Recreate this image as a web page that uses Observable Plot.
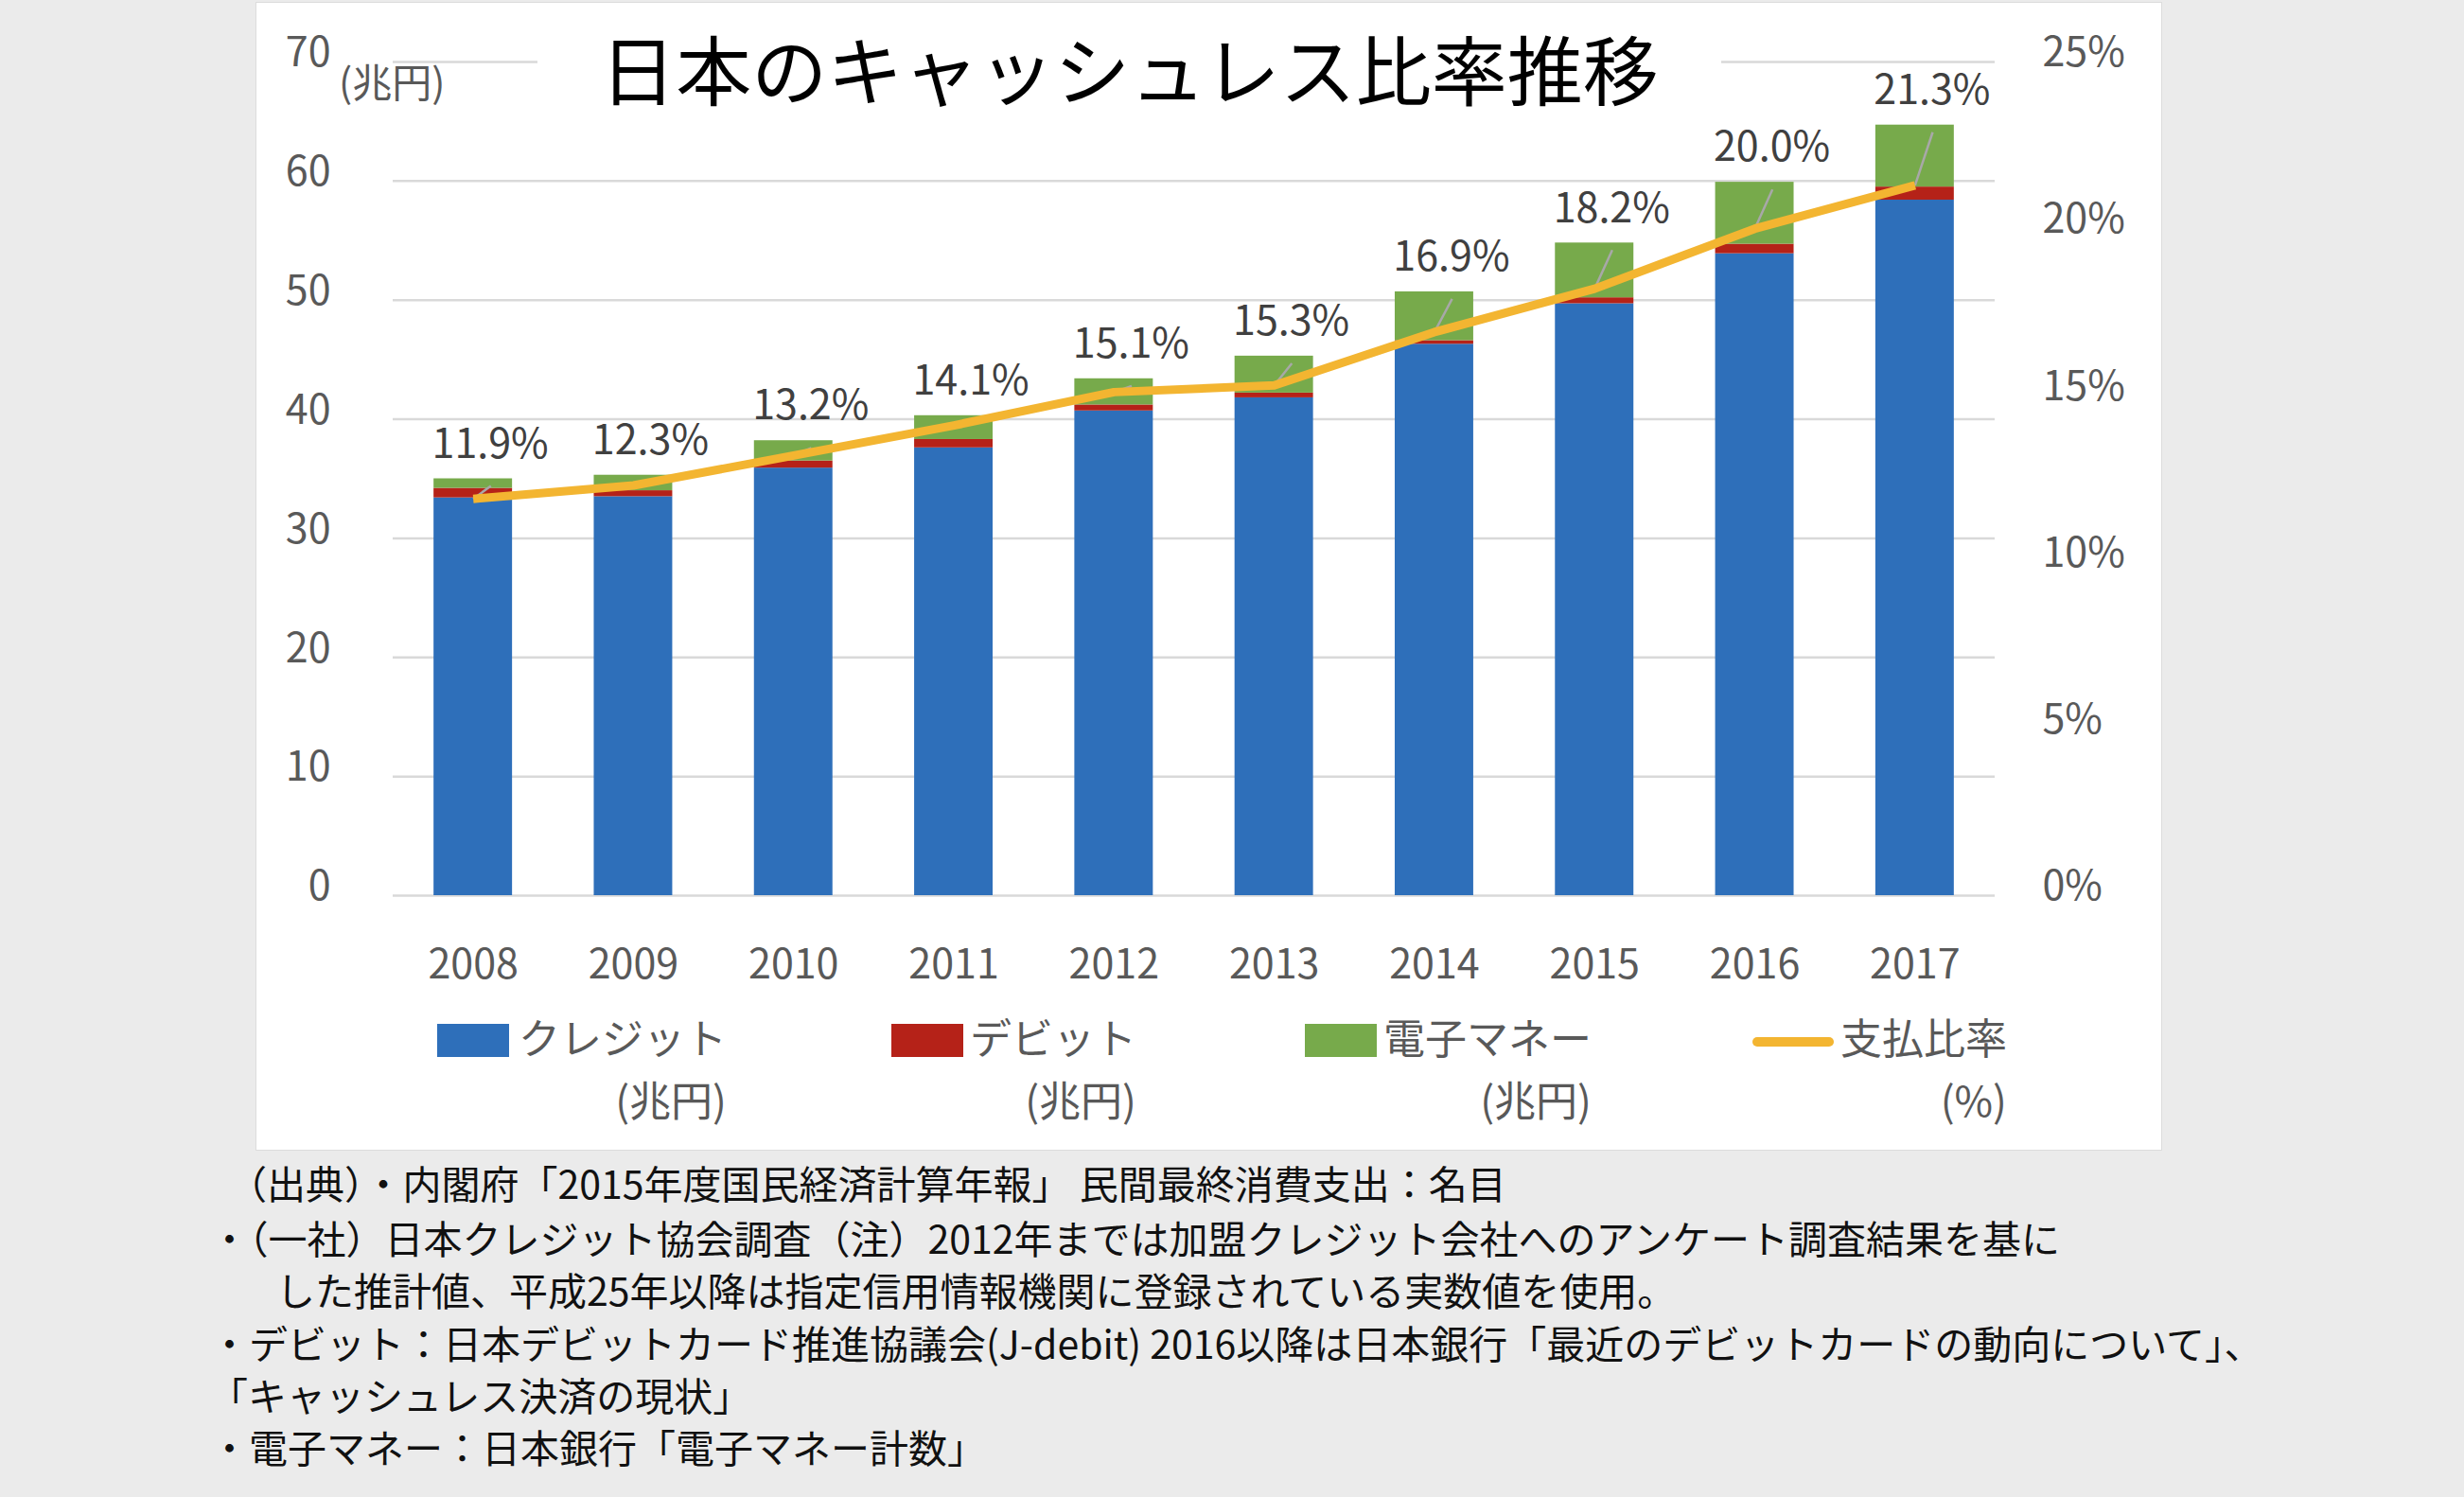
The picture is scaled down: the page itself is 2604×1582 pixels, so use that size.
<!DOCTYPE html>
<html lang="ja">
<head>
<meta charset="utf-8">
<script src="https://cdn.jsdelivr.net/npm/d3@7"></script>
<script src="https://cdn.jsdelivr.net/npm/@observablehq/plot@0.6"></script>
<style>
  html, body { margin: 0; padding: 0; }
  body {
    width: 2604px; height: 1582px; background: #ebebeb; position: relative; overflow: hidden;
    font-family: "Noto Sans CJK JP", "Noto Sans", sans-serif;
  }
  #panel {
    position: absolute; left: 271px; top: 3px; width: 2013px; height: 1212px;
    background: #ffffff; box-shadow: 0 0 0 1px #dcdcdc;
  }
  #chart { position: absolute; left: 0; top: 0; }
  #title {
    position: absolute; left: 297px; top: 22px; width: 1251px; height: 90px;
    line-height: 90px; text-align: center; font-size: 80px; color: #000; background: #fff;
    white-space: nowrap;
  }
  #unit {
    position: absolute; left: 87px; top: 57px; font-size: 42px; line-height: 50px; color: #595959;
    white-space: nowrap;
  }
  .sw { position: absolute; }
  .lg {
    position: absolute; font-size: 44px; line-height: 66px; color: #595959;
    text-align: right; white-space: nowrap;
  }
  .cap {
    position: absolute; font-size: 41px; line-height: 54px; color: #111; white-space: nowrap;
  }
</style>
</head>
<body>
<div id="panel">
  <div id="chart"></div>
  <div id="title"></div>
  <div id="unit"></div>
  <div id="legend"></div>
</div>
<div id="caption"></div>
<script>
// ---- data ----
const years   = [2008, 2009, 2010, 2011, 2012, 2013, 2014, 2015, 2016, 2017];
const credit  = [33.4, 33.5, 35.9, 37.6, 40.7, 41.8, 46.3, 49.7, 53.9, 58.4]; // 兆円
const debit   = [0.8, 0.5, 0.6, 0.7, 0.5, 0.4, 0.3, 0.5, 0.8, 1.1];          // 兆円
const emoney  = [0.8, 1.3, 1.7, 2.0, 2.2, 3.1, 4.1, 4.6, 5.2, 5.2];          // 兆円
const rate    = [11.9, 12.3, 13.2, 14.1, 15.1, 15.3, 16.9, 18.2, 20.0, 21.3]; // %
const yTicks   = [0, 10, 20, 30, 40, 50, 60, 70];
const pctTicks = [0, 5, 10, 15, 20, 25];
const seriesNames = ["クレジット", "デビット", "電子マネー"];
const lineName = "支払比率";
const unitLabels = ["(兆円)", "(兆円)", "(兆円)", "(%)"];
const titleText = "日本のキャッシュレス比率推移";
const yUnitText = "(兆円)";
const captionLines = [
  "（出典）・内閣府「2015年度国民経済計算年報」 民間最終消費支出：名目",
  "・（一社）日本クレジット協会調査（注）2012年までは加盟クレジット会社へのアンケート調査結果を基に",
  "した推計値、平成25年以降は指定信用情報機関に登録されている実数値を使用。",
  "・デビット：日本デビットカード推進協議会(J-debit) 2016以降は日本銀行「最近のデビットカードの動向について」、",
  "「キャッシュレス決済の現状」",
  "・電子マネー：日本銀行「電子マネー計数」"
];

// ---- styling ----
const colors = ["#2e6fba", "#b52218", "#77aa4b"];
const lineColor = "#f3b531";
const yMax = 70, pctMax = 25, k = yMax / pctMax;
const font = '"Noto Sans CJK JP", "Noto Sans", sans-serif';

// ---- derived tables ----
const seriesVals = [credit, debit, emoney];
const stackRows = [];
years.forEach((yr, i) => {
  let base = 0;
  seriesVals.forEach((vals, s) => {
    stackRows.push({year: yr, series: seriesNames[s], y1: base, y2: base + vals[i]});
    base += vals[i];
  });
});
const rows = years.map((yr, i) => ({
  year: yr, rate: rate[i], total: credit[i] + debit[i] + emoney[i]
}));

const chart = Plot.plot({
  width: 2013, height: 1050,
  marginLeft: 144, marginRight: 176, marginTop: 62, marginBottom: 107,
  x: {type: "linear", domain: [years[0] - 0.5, years[years.length - 1] + 0.5], axis: null, label: null},
  y: {domain: [0, yMax], axis: null, label: null},
  color: {domain: seriesNames, range: colors},
  style: {fontFamily: font, background: "transparent", overflow: "visible"},
  marks: [
    Plot.ruleY(yTicks, {stroke: "#d9d9d9", strokeWidth: 2.5}),
    Plot.axisY(yTicks, {anchor: "left", tickSize: 0, tickPadding: 66, dy: -9, label: null,
      fontSize: 43, fill: "#595959", tickFormat: d => String(d)}),
    Plot.axisY(pctTicks.map(p => p * k), {anchor: "right", tickSize: 0, tickPadding: 50, dy: -9, label: null,
      fontSize: 43, fill: "#595959", tickFormat: d => Math.round(d / k) + "%"}),
    Plot.axisX(years, {anchor: "bottom", tickSize: 0, tickPadding: 57, label: null,
      fontSize: 43, fill: "#595959", tickFormat: d => String(d)}),
    Plot.rect(stackRows, {
      x1: d => d.year - 0.245, x2: d => d.year + 0.245,
      y1: "y1", y2: "y2", fill: "series"
    }),
    Plot.link(rows, {
      x1: "year", y1: d => d.rate * k,
      x2: d => d.year + 0.11, y2: d => d.total - 0.6,
      stroke: "#a8a8a8", strokeWidth: 2.5
    }),
    Plot.line(rows, {x: "year", y: d => d.rate * k, stroke: lineColor, strokeWidth: 9,
      strokeLinejoin: "round", strokeLinecap: "butt"}),
    Plot.text(rows, {x: "year", y: "total", text: d => d.rate.toFixed(1) + "%",
      dx: 18, dy: -36, fontSize: 43, fill: "#404040"})
  ]
});
document.getElementById("chart").appendChild(chart);

document.getElementById("title").textContent = titleText;
document.getElementById("unit").textContent = yUnitText;

// ---- legend (HTML, below the axis) ----
const legend = document.getElementById("legend");
const swatchLefts = [191, 671, 1108, 1581];
const textLefts = [277, 754, 1191, 1674];
const names = [...seriesNames, lineName];
names.forEach((nm, i) => {
  const sw = document.createElement("div");
  sw.className = "sw";
  if (i < 3) {
    Object.assign(sw.style, {left: swatchLefts[i] + "px", top: "1079px", width: "76px",
      height: "35px", background: colors[i]});
  } else {
    Object.assign(sw.style, {left: swatchLefts[i] + "px", top: "1093px", width: "86px",
      height: "10px", background: lineColor, borderRadius: "5px"});
  }
  legend.appendChild(sw);
  const t = document.createElement("div");
  t.className = "lg";
  t.style.left = textLefts[i] + "px";
  t.style.top = "1059px";
  const l1 = document.createElement("div"); l1.textContent = nm;
  const l2 = document.createElement("div"); l2.textContent = unitLabels[i];
  t.appendChild(l1); t.appendChild(l2);
  legend.appendChild(t);
});

// ---- caption (below the panel) ----
const cap = document.getElementById("caption");
const capLefts = [241, 222, 292, 222, 221, 222];
const capCenters = [1249, 1307, 1362, 1418, 1473, 1528];
captionLines.forEach((s, i) => {
  const d = document.createElement("div");
  d.className = "cap";
  d.style.left = capLefts[i] + "px";
  d.style.top = (capCenters[i] - 27) + "px";
  d.textContent = s;
  cap.appendChild(d);
});
</script>
</body>
</html>
